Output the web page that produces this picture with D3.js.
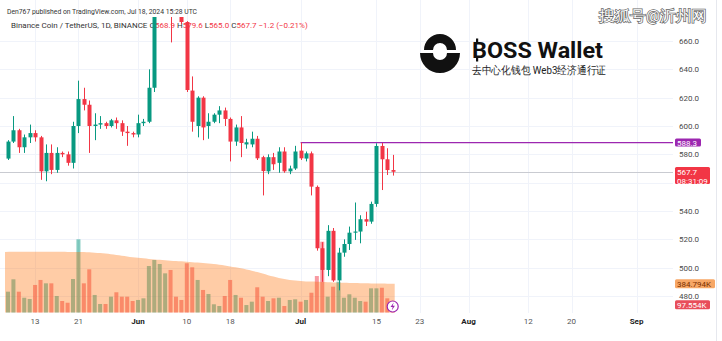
<!DOCTYPE html>
<html>
<head>
<meta charset="utf-8">
<script src="https://cdn.jsdelivr.net/npm/d3@7/dist/d3.min.js"></script>
<style>
  html, body { margin: 0; padding: 0; background: #fff; }
  svg { display: block; }
  text { font-family: Roboto, "Liberation Sans", "Noto Sans", sans-serif; }
</style>
</head>
<body>
<svg id="chart" width="722" height="341"></svg>
<script>
// BNB/USDT daily candles, 2024-05-08 .. 2024-07-18
const startDay = new Date(Date.UTC(2024, 4, 8));
const endDay = new Date(Date.UTC(2024, 6, 18));
const openVals  = [577,589,597,585,592,595,592,568,581,569,581,580,574,600,619,615,600,601,602,600,604,602,596,595,594,602,603,627,692,700,706,690,686,673.4,625,600,620,600,603,608,611,605,589,599,587,587,591,578,568,578,574,582,568,570,582.6,577,580.7,557,513.7,498.4,526,491,510.6,516.7,524.7,525.5,534.2,532.5,545,585.9,576.5,568.9];
const highVals  = [590,607,598,594,601,597,593,587,587,585,582,582,603,632,627,618,609,607,603,605,606,604,600,596,608,605,640,700,705,721,712,698,690,674,635,621,621,609,609,614,613,606,601,607,591,596,593,579,580,581,585,585,572,586,588.3,582,582,558,518,530,528,514,520,529,546,537,539.5,546.6,587.8,588,584.3,579.6];
const lowVals   = [576,588,581,581,588,589,562,561,566,567,578,572,570,595,611,581,590,598,598,599,598,593,586,592,592,600,602,624,685,695,659,682,672,624,596,592,590,591,602,602,600,575,586,578,584,585,576,551,566,569,567,567,566,569,576,575,551,512,490,494,490,484,507.7,512.5,519.6,517.2,529.4,531,543,554.8,565.4,565.0];
const closeVals = [589,597,585,592,595,592,568,581,569,581,580,574,600,619,615,600,601,602,600,604,602,596,595,594,602,603,627,692,700,706,690,686,673.4,625.4,603,620,599,603,608,611,605,589,599,588,588.5,591,577.2,568.2,578,573,582,568,570,582,577.2,580.7,557.2,513.7,498.4,526,491,510.6,516.7,524.7,525.5,534.2,532.5,545,585.9,576.5,568.9,567.7];
// volume (thousands) and its moving average (thousands)
const volumeK   = [279,445,279,198,181,369,436,391,391,221,154,131,449,981,391,579,235,114,114,212,271,212,212,154,168,190,623,704,650,525,570,212,168,660,606,436,302,248,110,87,221,436,235,198,100,145,338,212,154,190,198,87,168,177,145,168,265,489,949,212,346,413,198,244,198,154,145,324,324,332,190,97.554];
const volumeMaK = [812,814,815,815,816,816,815,815,814,814,813,812,812,812,810,806,800,796,790,782,772,762,752,742,734,726,718,712,706,700,695,690,686,680,675,670,665,658,650,640,630,618,606,592,576,560,542,522,500,482,464,450,436,428,422,417,414,411,408,405,402,400,398,396,394,392,391,390,389,388,386,384.794];

const priceTicks = [480, 500, 520, 540, 560, 580, 600, 620, 640, 660];
const timeTickDates = ["2024-05-13","2024-05-21","2024-06-01","2024-06-10","2024-06-18","2024-07-01","2024-07-15","2024-07-23","2024-08-01","2024-08-12","2024-08-20","2024-09-01"];
const timeTickLabels = ["13","21","Jun","10","18","Jul","15","23","Aug","12","20","Sep"];
const levelPrice = 588.3;
const lastPrice = 567.7;
const countdown = "08:31:09";

const UP = "#089981", DOWN = "#f23645";

const days = d3.utcDay.range(startDay, d3.utcDay.offset(endDay, 1));
const bars = days.map((d, i) => ({
  date: d, o: openVals[i], h: highVals[i], l: lowVals[i], c: closeVals[i],
  v: volumeK[i], ma: volumeMaK[i]
}));

const svg = d3.select("#chart");
const paneRight = 673, paneTop = 17, paneBottom = 313;

const x = d3.scaleUtc().domain([startDay, endDay]).range([8, 392.7]);
const y = d3.scaleLinear().domain([480, 660]).range([296, 41]);
const yVol = d3.scaleLinear().domain([0, 1000]).range([312.5, 237.9]);
const bw = 4;

// clip for the pane
svg.append("defs").append("clipPath").attr("id", "pane")
  .append("rect").attr("x", 0).attr("y", paneTop).attr("width", paneRight).attr("height", paneBottom - paneTop);

// grid
const grid = svg.append("g");
grid.selectAll("line.h").data(priceTicks).join("line")
  .attr("x1", 0).attr("x2", paneRight)
  .attr("y1", d => Math.round(y(d)) + 0.5).attr("y2", d => Math.round(y(d)) + 0.5)
  .attr("stroke", "#f0f3fa");
const tickDates = timeTickDates.map(s => new Date(s + "T00:00:00Z"));
grid.selectAll("line.v").data(tickDates).join("line")
  .attr("x1", d => Math.round(x(d)) + 0.5).attr("x2", d => Math.round(x(d)) + 0.5)
  .attr("y1", 0).attr("y2", paneBottom)
  .attr("stroke", "#f0f3fa");

// right border
svg.append("line").attr("x1", 716.5).attr("x2", 716.5).attr("y1", 0).attr("y2", 341).attr("stroke", "#e6e8ee");

// header
const hdr = svg.append("g").attr("font-size", 8).attr("fill", "#333");
hdr.append("text").attr("x", 7).attr("y", 13.5).attr("textLength", 190).attr("lengthAdjust", "spacingAndGlyphs")
  .text("Den767 published on TradingView.com, Jul 18, 2024 15:28 UTC");
const l2 = hdr.append("text").attr("x", 11).attr("y", 28);
l2.append("tspan").attr("fill", "#333").text("Binance Coin / TetherUS, 1D, BINANCE  ");
const last = bars[bars.length - 1];
const fmt = d3.format(".1f");
[["O", last.o], ["H", last.h], ["L", last.l], ["C", last.c]].forEach(([k, v]) => {
  l2.append("tspan").attr("fill", "#333").text(k);
  l2.append("tspan").attr("fill", DOWN).text(fmt(v) + " ");
});
l2.append("tspan").attr("fill", DOWN).text("\u22121.2 (\u22120.21%)");

const pane = svg.append("g").attr("clip-path", "url(#pane)");

// volume bars
pane.append("g").selectAll("rect").data(bars).join("rect")
  .attr("x", d => x(d.date) - bw / 2).attr("width", bw)
  .attr("y", d => yVol(d.v)).attr("height", d => yVol(0) - yVol(d.v))
  .attr("fill", d => d.c >= d.o ? UP : DOWN).attr("fill-opacity", 0.5);

// volume moving average area
const maArea = d3.area()
  .x((d, i) => x(d.date) + (i === 0 ? -bw / 2 - 1 : i === bars.length - 1 ? bw / 2 : 0))
  .y0(yVol(0)).y1(d => yVol(d.ma))
  .curve(d3.curveMonotoneX);
pane.append("path").datum(bars).attr("d", maArea)
  .attr("fill", "#ff6d00").attr("fill-opacity", 0.35);

// last price line
pane.append("line").attr("x1", 0).attr("x2", paneRight)
  .attr("y1", Math.round(y(lastPrice)) + 0.5).attr("y2", Math.round(y(lastPrice)) + 0.5)
  .attr("stroke", "#c9cbd1").attr("stroke-width", 1);

// horizontal level from the bar that set it
const levelStart = bars.find(d => d.h === levelPrice);
pane.append("line").attr("x1", x(levelStart.date)).attr("x2", paneRight + 3)
  .attr("y1", y(levelPrice)).attr("y2", y(levelPrice))
  .attr("stroke", "#9c27b0").attr("stroke-width", 1.3);

// candles
const cg = pane.append("g").selectAll("g").data(bars).join("g")
  .attr("fill", d => d.c >= d.o ? UP : DOWN).attr("stroke", d => d.c >= d.o ? UP : DOWN);
cg.append("line")
  .attr("x1", d => Math.round(x(d.date)) + 0.5).attr("x2", d => Math.round(x(d.date)) + 0.5)
  .attr("y1", d => y(d.h)).attr("y2", d => y(d.l)).attr("stroke-width", 1);
cg.append("rect")
  .attr("x", d => Math.round(x(d.date)) + 0.5 - bw / 2).attr("width", bw)
  .attr("y", d => y(Math.max(d.o, d.c)))
  .attr("height", d => Math.max(1, Math.abs(y(d.o) - y(d.c))))
  .attr("stroke", "none");

// price tags
function tag(yc, h, w, fill, lines, color) {
  const g = svg.append("g");
  g.append("rect").attr("x", 675).attr("y", yc - h / 2).attr("width", w).attr("height", h)
    .attr("rx", 1.5).attr("fill", fill);
  lines.forEach((t, k) => g.append("text").attr("x", 677).attr("y", yc - h / 2 + 7.5 + k * 9)
    .attr("font-size", 8).attr("fill", color).text(t));
  return [yc - h / 2, yc + h / 2];
}
const tagSpans = [];
tagSpans.push(tag(y(levelPrice), 8, 26, "#9c27b0", [fmt(levelPrice)], "#fff"));
tagSpans.push(tag(y(lastPrice) + 3.8, 17, 35, DOWN, [fmt(lastPrice), countdown], "#fff"));
tagSpans.push(tag(yVol(volumeMaK[volumeMaK.length - 1]), 9, 40, "#f7a766", [d3.format(".3f")(volumeMaK[volumeMaK.length - 1]) + "K"], "#7a3000"));
tagSpans.push(tag(yVol(last.v) - 0.5, 9, 35, "#e84e5a", [d3.format(".3f")(last.v) + "K"], "#fff"));

// price axis labels; a label sitting under a price tag is hidden by it
const visibleTicks = priceTicks.filter(p => !tagSpans.some(([a, b]) => y(p) + 3 > a && y(p) - 4 < b));
svg.append("g").attr("font-size", 8).attr("fill", "#4a4a4a")
  .selectAll("text").data(visibleTicks).join("text")
  .attr("x", 679).attr("y", d => y(d) + 3).text(d => d3.format(".1f")(d));

// time axis labels
const tx = svg.append("g").attr("font-size", 8).attr("text-anchor", "middle");
tx.selectAll("text").data(tickDates).join("text")
  .attr("x", d => x(d)).attr("y", 324)
  .attr("fill", (d, i) => /[A-Za-z]/.test(timeTickLabels[i]) ? "#222" : "#555")
  .attr("font-weight", (d, i) => /[A-Za-z]/.test(timeTickLabels[i]) ? "bold" : "normal")
  .text((d, i) => timeTickLabels[i]);

// event marker
const ev = svg.append("g").attr("transform", `translate(${x(endDay)},306.5)`);
ev.append("circle").attr("r", 5.5).attr("fill", "#fff").attr("stroke", "#9c27b0").attr("stroke-width", 1.2);
ev.append("path").attr("d", "M1,-4 L-2.2,0.6 L0,0.6 L-1,4 L2.2,-0.8 L0,-0.8 Z").attr("fill", "#9c27b0");

// brand mark
const logo = svg.append("g");
logo.append("path").attr("fill", "#111")
  .attr("d", "M424,50 A16,16 0 0 1 456,50 L447,50 A7,7 0 0 0 433,50 Z");
logo.append("path").attr("fill", "#111")
  .attr("d", "M420,53 L433,53 A7,7 0 0 0 447,53 L460,53 A20,20 0 0 1 420,53 Z");
logo.append("text").attr("x", 472).attr("y", 58).attr("font-size", 22).attr("font-weight", "bold")
  .attr("font-family", "Inter, 'Liberation Sans', sans-serif").attr("fill", "#111")
  .attr("textLength", 131).attr("lengthAdjust", "spacingAndGlyphs").text("BOSS Wallet");
logo.append("rect").attr("x", 476).attr("y", 38.5).attr("width", 2.2).attr("height", 4).attr("fill", "#111");
logo.append("rect").attr("x", 476).attr("y", 57.5).attr("width", 2.2).attr("height", 4).attr("fill", "#111");
logo.append("text").attr("x", 472).attr("y", 74).attr("font-size", 11)
  .attr("font-family", "'Noto Sans CJK SC', sans-serif").attr("fill", "#222")
  .attr("textLength", 134).attr("lengthAdjust", "spacingAndGlyphs").text("去中心化钱包 Web3经济通行证");

// watermark
svg.append("text").attr("x", 599).attr("y", 21).attr("font-size", 15)
  .attr("font-family", "'Noto Sans CJK SC', sans-serif")
  .attr("fill", "#fff").attr("stroke", "#666").attr("stroke-width", 1.4).attr("paint-order", "stroke")
  .attr("textLength", 108).attr("lengthAdjust", "spacingAndGlyphs").text("搜狐号@沂州网");
</script>
</body>
</html>
